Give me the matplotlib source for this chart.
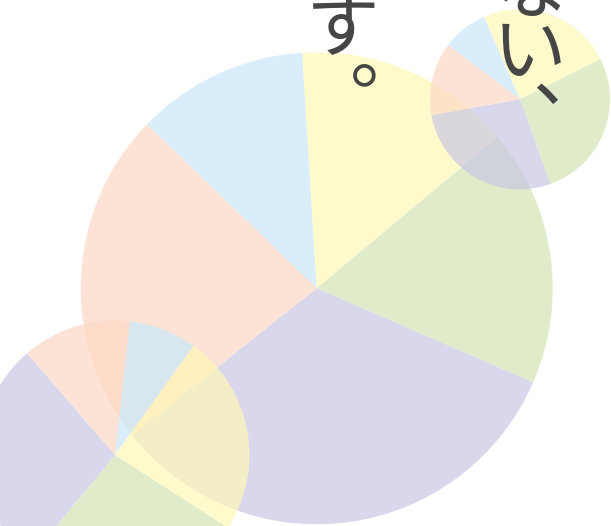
import matplotlib
matplotlib.use("Agg")
import matplotlib.pyplot as plt

# Data (shares per slice, same category order in every pie)
categories = ["A", "B", "C", "D", "E"]
big_values = [11.8, 14.9, 17.6, 32.8, 22.9]
small_values = [8.2, 24.2, 26.9, 27.7, 13.1]

# Text fragments (vertical writing, cut off at top)
left_chars = ["す", "。"]
right_chars = ["な", "い", "、"]

colors = ['#cae8f9', '#fff8b6', '#d3e5b3', '#cac7e4', '#fcd8c4']
text_color = '#464646'

W, H = 611, 526
fig = plt.figure(figsize=(W / 100, H / 100), dpi=100)
ax = fig.add_axes([7 / W, 0, (W - 7) / W, 1])

wedge_style = {'alpha': 0.7, 'linewidth': 0}

# Big pie
ax.pie(big_values, colors=colors, startangle=136, counterclock=False,
       center=(316.7, H - 288.3), radius=236, wedgeprops=wedge_style, frame=True)
# Top right pie
ax.pie(small_values, colors=colors, startangle=143, counterclock=False,
       center=(520, H - 99.3), radius=90, wedgeprops=wedge_style, frame=True)
# Bottom left pie
ax.pie(small_values, colors=colors, startangle=83.7, counterclock=False,
       center=(115, H - 455), radius=134.5, wedgeprops=wedge_style, frame=True)

ax.set_xlim(7, W)
ax.set_ylim(0, H)
ax.set_aspect('equal')
ax.axis('off')

font = ['Noto Sans CJK JP', 'DejaVu Sans']
fs = 53
kw = dict(fontsize=fs, family=font, color=text_color, ha='center', va='center', clip_on=False)
# left column
ax.text(343, H - 30, left_chars[0], **kw)
ax.text(387, H - 60, left_chars[1], **kw)
# right column
ax.text(530, H + 9, right_chars[0], **kw)
ax.text(530, H - 54, right_chars[1], **kw)
ax.text(569, H - 79, right_chars[2], **kw)

fig.savefig('out.png', dpi=100)
